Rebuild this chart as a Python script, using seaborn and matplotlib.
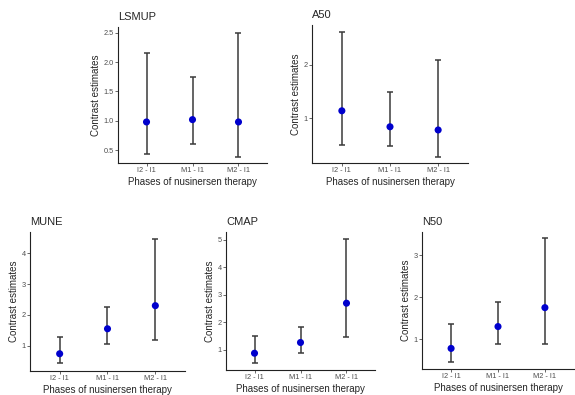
import numpy as np
import pandas as pd
import matplotlib
matplotlib.use("Agg")
import matplotlib.pyplot as plt
import seaborn as sns

# contrasts between therapy phases
phases = ["I2 - I1", "M1 - I1", "M2 - I1"]

lsmup_est = [0.98, 1.02, 0.98]
lsmup_lo = [0.44, 0.60, 0.39]
lsmup_hi = [2.16, 1.75, 2.50]

a50_est = [1.14, 0.84, 0.78]
a50_lo = [0.50, 0.48, 0.28]
a50_hi = [2.62, 1.49, 2.09]

mune_est = [0.74, 1.55, 2.30]
mune_lo = [0.43, 1.05, 1.19]
mune_hi = [1.28, 2.25, 4.47]

cmap_est = [0.88, 1.27, 2.70]
cmap_lo = [0.52, 0.88, 1.47]
cmap_hi = [1.52, 1.85, 5.04]

n50_est = [0.78, 1.30, 1.75]
n50_lo = [0.45, 0.89, 0.89]
n50_hi = [1.36, 1.89, 3.40]

sns.set_theme(style="ticks")
plt.rcParams['font.family'] = ['Liberation Sans', 'DejaVu Sans']

W, H = 575, 395
fig = plt.figure(figsize=(W / 100, H / 100), dpi=100)


def px_axes(left, right, top, bottom):
    return fig.add_axes([left / W, 1 - bottom / H, (right - left) / W, (bottom - top) / H])


panels = [
    ("LSMUP", lsmup_est, lsmup_lo, lsmup_hi, (118, 267, 27, 163), (0.28, 2.6), [0.5, 1.0, 1.5, 2.0, 2.5], "{:.1f}"),
    ("A50", a50_est, a50_lo, a50_hi, (312, 468, 25, 163), (0.16, 2.75), [1, 2], "{:d}"),
    ("MUNE", mune_est, mune_lo, mune_hi, (30, 185, 232, 371), (0.18, 4.69), [1, 2, 3, 4], "{:d}"),
    ("CMAP", cmap_est, cmap_lo, cmap_hi, (226, 375, 232, 370), (0.27, 5.29), [1, 2, 3, 4, 5], "{:d}"),
    ("N50", n50_est, n50_lo, n50_hi, (422, 574, 232, 369), (0.29, 3.55), [1, 2, 3], "{:d}"),
]

for title, est, lo, hi, box, ylim, yticks, fmt in panels:
    ax = px_axes(*box)
    df = pd.DataFrame({"phase": phases, "est": est, "lo": lo, "hi": hi})
    ax.errorbar(df["phase"], df["est"],
                yerr=[df["est"] - df["lo"], df["hi"] - df["est"]],
                fmt="none", ecolor="#3a3a3a", elinewidth=1.1,
                capsize=2.3, capthick=1.1, zorder=2)
    sns.scatterplot(data=df, x="phase", y="est", ax=ax, color="#0000CD",
                    s=26, edgecolor="none", zorder=3)
    ax.set_xlim(-0.62, 2.62)
    ax.set_ylim(*ylim)
    ax.set_yticks(yticks)
    ax.set_yticklabels([fmt.format(t) for t in yticks])
    ax.set_title(title, loc="left", fontsize=8, pad=5, x=0.0)
    ax.set_xlabel("Phases of nusinersen therapy", fontsize=7, labelpad=1.5)
    ax.set_ylabel("Contrast estimates", fontsize=7, labelpad=2)
    ax.tick_params(axis="both", labelsize=5.3, colors="#4D4D4D",
                   length=2, width=0.6, pad=1.2, labelcolor="#4D4D4D")
    sns.despine(ax=ax)
    for s in ["left", "bottom"]:
        ax.spines[s].set_linewidth(0.8)
        ax.spines[s].set_color("#222222")

fig.savefig("out.png", dpi=100)
